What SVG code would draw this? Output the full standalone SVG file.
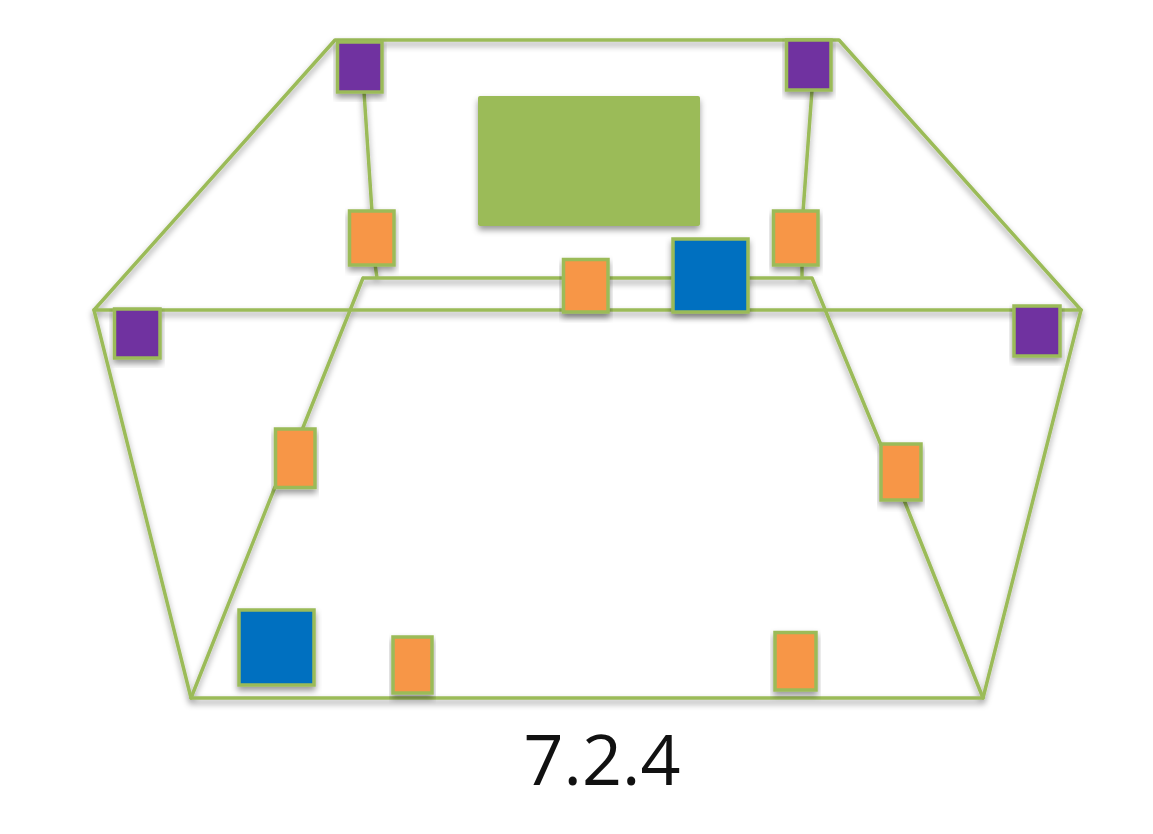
<svg xmlns="http://www.w3.org/2000/svg" width="1153" height="834" viewBox="0 0 1153 834">
<defs>
<filter id="s" x="-10%" y="-10%" width="120%" height="130%"><feDropShadow dx="0" dy="4" stdDeviation="3" flood-color="#000" flood-opacity="0.4"/></filter>
</defs>
<style>
.l{fill:none;stroke:#9bbb59;stroke-width:3.5;stroke-linecap:round;stroke-linejoin:round}
.n{stroke:#9bbb59;stroke-width:3.5;filter:url(#s)}
.p{fill:#7030a0}.o{fill:#f79646}.b{fill:#0070c0}
text{font-family:"Open Sans","Noto Sans",sans-serif}
</style>
<rect width="1153" height="834" fill="#fff"/>
<g id="connectors" filter="url(#s)">
<path class="l" d="M335 40H839L1081 310H94Z"/>
<path class="l" d="M94 310L191 698H983L1081 310"/>
<path class="l" d="M364 92L372 212M812 90L803 212M375 264L377 278M802 264V278M363 278H812L881 445M363 278L302 430M275 487L191 698M904 500L983 698"/>
</g>
<g id="top-green"><rect x="478" y="96" width="222" height="130" rx="2" fill="#9bbb59" filter="url(#s)"/></g>
<g id="p1"><rect class="n p" x="337.500" y="42" width="44.500" height="50"/></g>
<g id="p2"><rect class="n p" x="786.500" y="40" width="44.500" height="50"/></g>
<g id="p3"><rect class="n p" x="114.500" y="309" width="45.500" height="49"/></g>
<g id="p4"><rect class="n p" x="1014" y="306" width="46" height="50"/></g>
<g id="o1"><rect class="n o" x="349.500" y="211" width="44.500" height="54"/></g>
<g id="o2"><rect class="n o" x="773.500" y="211" width="44.500" height="54"/></g>
<g id="o3"><rect class="n o" x="563.500" y="259.500" width="44.500" height="52.500"/></g>
<g id="o4"><rect class="n o" x="275.500" y="429" width="39.500" height="58.500"/></g>
<g id="o5"><rect class="n o" x="881" y="444" width="40" height="56"/></g>
<g id="o6"><rect class="n o" x="393" y="637" width="39" height="56"/></g>
<g id="o7"><rect class="n o" x="775" y="632.500" width="41" height="57.500"/></g>
<g id="b1"><rect class="n b" x="673" y="239" width="75" height="73"/></g>
<g id="b2"><rect class="n b" x="239" y="610" width="75" height="75"/></g>
<text x="602" y="785" font-size="70" text-anchor="middle" fill="#111">7.2.4</text>
</svg>
